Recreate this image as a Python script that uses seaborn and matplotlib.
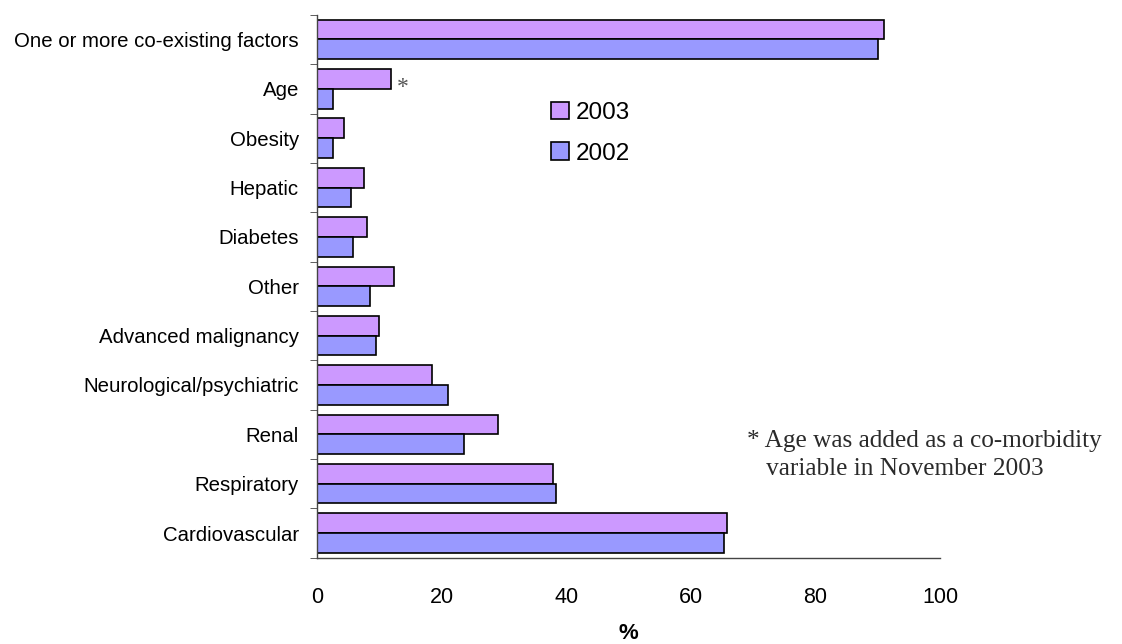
import pandas as pd
import matplotlib.pyplot as plt
import seaborn as sns
from matplotlib.ticker import FixedLocator

# values (% of cases)
categories = ['One or more co-existing factors', 'Age', 'Obesity', 'Hepatic', 'Diabetes',
              'Other', 'Advanced malignancy', 'Neurological/psychiatric', 'Renal',
              'Respiratory', 'Cardiovascular']
values_2003 = [91.0, 11.8, 4.3, 7.5, 8.0, 12.4, 10.0, 18.5, 29.1, 37.8, 65.8]
values_2002 = [90.0, 2.5, 2.6, 5.4, 5.8, 8.5, 9.5, 21.1, 23.6, 38.3, 65.3]
years = ['2003', '2002']
colors = ['#CC99FF', '#9999FF']

df = pd.DataFrame({
    'category': categories * 2,
    'value': values_2003 + values_2002,
    'year': [years[0]] * len(categories) + [years[1]] * len(categories),
})

sns.set_style('white')
plt.rcParams['font.family'] = ['Liberation Sans', 'DejaVu Sans']
plt.rcParams['text.color'] = 'black'
plt.rcParams['xtick.color'] = 'black'
plt.rcParams['ytick.color'] = 'black'
plt.rcParams['axes.labelcolor'] = 'black'

fig = plt.figure(figsize=(11.22, 6.44), dpi=100)
ax = fig.add_axes([0.2825, 0.134, 0.5555, 0.843])

sns.barplot(data=df, y='category', x='value', hue='year', order=categories,
            hue_order=years, palette=colors, orient='h', width=0.8,
            edgecolor='black', linewidth=1.2, saturation=1, ax=ax)

ax.set_xlim(0, 100)
ax.set_ylim(len(categories) - 0.5, -0.5)
ax.set_xticks([0, 20, 40, 60, 80, 100])
ax.tick_params(axis='x', labelsize=15.5, length=5, direction='out', color='#444444', pad=16)
ax.tick_params(axis='y', which='major', length=0, labelsize=14.7, pad=13)
ax.yaxis.set_minor_locator(FixedLocator([i - 0.5 for i in range(len(categories) + 1)]))
ax.tick_params(axis='y', which='minor', length=5, direction='out', color='#444444', left=True)
ax.set_xlabel('%', fontsize=16, fontweight='bold', labelpad=11)
ax.set_ylabel('')

for side in ['top', 'right']:
    ax.spines[side].set_visible(False)
for side in ['left', 'bottom']:
    ax.spines[side].set_color('#444444')
    ax.spines[side].set_linewidth(1)

# asterisk next to the 2003 Age bar
age_idx = categories.index('Age')
ax.text(values_2003[age_idx] + 1.0, age_idx - 0.02, '*', fontsize=17,
        family='Liberation Serif', color='#555555', va='center', ha='left')

leg = ax.legend(loc='upper left', bbox_to_anchor=(0.36, 0.858), frameon=False,
                fontsize=17.5, handlelength=0.75, handleheight=0.75, handletextpad=0.25,
                labelspacing=0.75, borderaxespad=0)
for h in leg.legend_handles:
    h.set_edgecolor('black')
    h.set_linewidth(1.2)

fig.text(0.666, 0.333, '* Age was added as a co-morbidity\n   variable in November 2003',
         fontsize=18.2, family='Liberation Serif', color='#2a2a2a', va='top', ha='left',
         linespacing=1.4)

plt.savefig('out.png', dpi=100)
